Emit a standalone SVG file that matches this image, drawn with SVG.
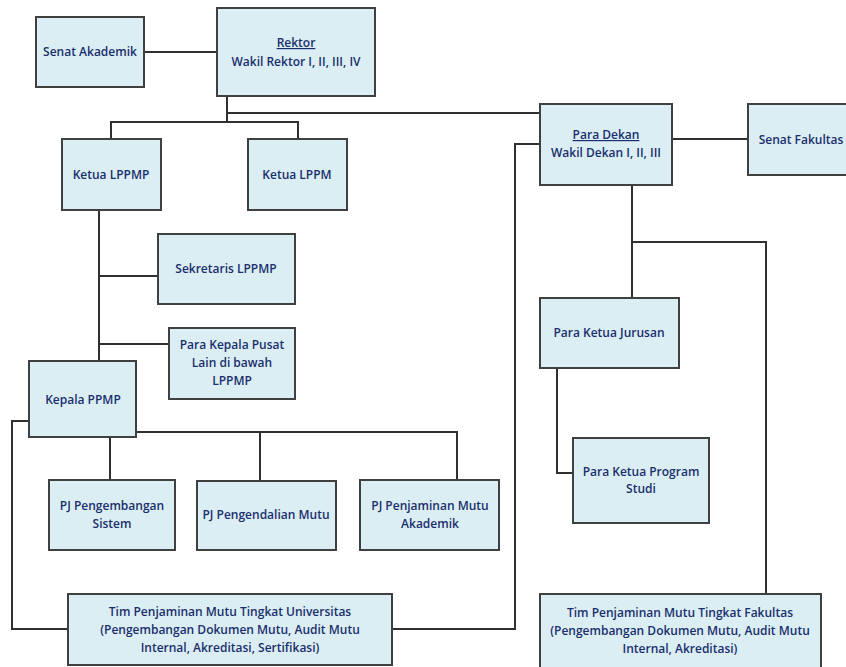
<svg xmlns="http://www.w3.org/2000/svg" width="846" height="667" viewBox="0 0 846 667">
<style>
.box{fill:#DAEEF3;stroke:#404040;stroke-width:2}
.t{font-family:"Open Sans","Liberation Sans",sans-serif;font-weight:600;font-size:12px;fill:#1B2E6E;text-anchor:middle}
.u{text-decoration:underline}
.c{fill:none;stroke:#303030;stroke-width:2}
</style>
<rect width="846" height="667" fill="#ffffff"/>
<g id="connectors">
<path class="c" d="M144,52H217"/>
<path class="c" d="M227,96V122M111,139V122H298V139"/>
<path class="c" d="M227,113H540"/>
<path class="c" d="M672,139H748"/>
<path class="c" d="M99,210V361M99,276H158M99,344H169"/>
<path class="c" d="M29,421H12V629H68"/>
<path class="c" d="M136,432H457V480M110,437V480M260,432V480"/>
<path class="c" d="M391,629H515V144H540"/>
<path class="c" d="M632,185V298M632,242H766V594"/>
<path class="c" d="M557,368V473H573"/>
</g>
<g id="senat-akademik"><rect class="box" x="36" y="17" width="108" height="70"/><text class="t" x="90" y="56">Senat Akademik</text></g>
<g id="rektor"><rect class="box" x="217" y="8" width="158" height="88"/><text class="t u" x="296" y="47">Rektor</text><text class="t" x="296" y="66">Wakil Rektor I, II, III, IV</text></g>
<g id="ketua-lppmp"><rect class="box" x="62" y="139" width="99" height="71"/><text class="t" x="111" y="179">Ketua LPPMP</text></g>
<g id="ketua-lppm"><rect class="box" x="248" y="139" width="99" height="71"/><text class="t" x="297" y="179">Ketua LPPM</text></g>
<g id="para-dekan"><rect class="box" x="540" y="104" width="132" height="81"/><text class="t u" x="606" y="139">Para Dekan</text><text class="t" x="606" y="157">Wakil Dekan I, II, III</text></g>
<g id="senat-fakultas"><rect class="box" x="748" y="104" width="110" height="71"/><text class="t" x="801" y="144">Senat Fakultas</text></g>
<g id="sekretaris-lppmp"><rect class="box" x="158" y="234" width="137" height="70"/><text class="t" x="226" y="273">Sekretaris LPPMP</text></g>
<g id="para-kepala-pusat"><rect class="box" x="169" y="328" width="126" height="71"/><text class="t" x="232" y="349">Para Kepala Pusat</text><text class="t" x="232" y="367">Lain di bawah</text><text class="t" x="232" y="385">LPPMP</text></g>
<g id="kepala-ppmp"><rect class="box" x="29" y="361" width="107" height="76"/><text class="t" x="83" y="404">Kepala PPMP</text></g>
<g id="pj-pengembangan"><rect class="box" x="49" y="480" width="126" height="70"/><text class="t" x="112" y="510">PJ Pengembangan</text><text class="t" x="112" y="528">Sistem</text></g>
<g id="pj-pengendalian"><rect class="box" x="197" y="481" width="139" height="69"/><text class="t" x="266" y="519">PJ Pengendalian Mutu</text></g>
<g id="pj-penjaminan"><rect class="box" x="360" y="480" width="139" height="70"/><text class="t" x="430" y="510">PJ Penjaminan Mutu</text><text class="t" x="430" y="528">Akademik</text></g>
<g id="tim-universitas"><rect class="box" x="68" y="594" width="324" height="71"/><text class="t" x="230" y="616">Tim Penjaminan Mutu Tingkat Universitas</text><text class="t" x="230" y="634">(Pengembangan Dokumen Mutu, Audit Mutu</text><text class="t" x="230" y="652">Internal, Akreditasi, Sertifikasi)</text></g>
<g id="para-ketua-jurusan"><rect class="box" x="540" y="298" width="139" height="70"/><text class="t" x="609" y="337">Para Ketua Jurusan</text></g>
<g id="para-ketua-prodi"><rect class="box" x="573" y="438" width="136" height="85"/><text class="t" x="641" y="476">Para Ketua Program</text><text class="t" x="641" y="493">Studi</text></g>
<g id="tim-fakultas"><rect class="box" x="540" y="594" width="281" height="80"/><text class="t" x="680" y="617">Tim Penjaminan Mutu Tingkat Fakultas</text><text class="t" x="680" y="635">(Pengembangan Dokumen Mutu, Audit Mutu</text><text class="t" x="680" y="653">Internal, Akreditasi)</text></g>
</svg>
